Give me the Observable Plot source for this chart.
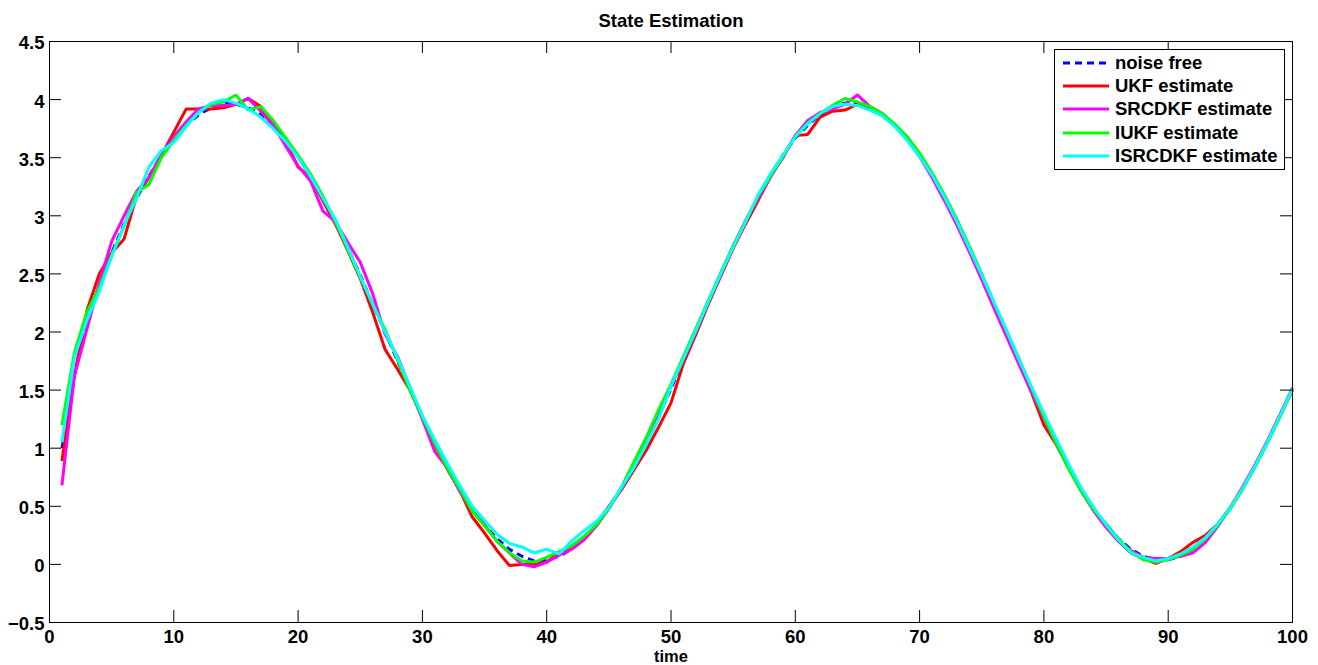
<!DOCTYPE html>
<html><head><meta charset="utf-8">
<script src="https://cdn.jsdelivr.net/npm/d3@7"></script>
<script src="https://cdn.jsdelivr.net/npm/@observablehq/plot@0.6"></script>
<style>
html,body{margin:0;padding:0;background:#fff;}
#wrap{position:relative;width:1318px;height:665px;font-family:"Liberation Sans",Arial,Helvetica,sans-serif;}
#legend{position:absolute;left:1054px;top:49px;width:229px;height:119px;border:1px solid #000;background:#fff;}
.row{position:absolute;left:0;height:23px;display:flex;align-items:center;font-weight:bold;font-size:18.5px;white-space:nowrap;color:#000;}
.row svg{margin-left:8px;margin-right:6px;display:block;}
</style></head><body><div id="wrap"></div>
<script>
const time = [1,2,3,4,5,6,7,8,9,10,11,12,13,14,15,16,17,18,19,20,21,22,23,24,25,26,27,28,29,30,31,32,33,34,35,36,37,38,39,40,41,42,43,44,45,46,47,48,49,50,51,52,53,54,55,56,57,58,59,60,61,62,63,64,65,66,67,68,69,70,71,72,73,74,75,76,77,78,79,80,81,82,83,84,85,86,87,88,89,90,91,92,93,94,95,96,97,98,99,100];

const noiseFree = [1.00,1.63,2.06,2.40,2.68,2.93,3.15,3.34,3.52,3.66, 3.78,3.87,3.93,3.97,3.96,3.93,3.87,3.78,3.66,3.51, 3.35,3.15,2.95,2.72,2.49,2.24,2.00,1.75,1.51,1.27, 1.05,0.84,0.65,0.48,0.34,0.22,0.13,0.07,0.03,0.04, 0.07,0.13,0.22,0.34,0.49,0.66,0.85,1.06,1.28,1.51, 1.76,2.00,2.25,2.49,2.73,2.95,3.16,3.35,3.52,3.67, 3.78,3.87,3.94,3.97,3.97,3.93,3.87,3.78,3.66,3.52, 3.35,3.15,2.95,2.72,2.49,2.24,2.00,1.75,1.51,1.27, 1.05,0.84,0.65,0.48,0.34,0.22,0.13,0.07,0.04,0.04, 0.07,0.13,0.22,0.34,0.49,0.66,0.85,1.06,1.28,1.51];

const ukf = [0.89,1.62,2.18,2.50,2.68,2.80,3.17,3.33,3.52,3.72, 3.92,3.92,3.92,3.93,3.96,4.01,3.94,3.78,3.64,3.42, 3.33,3.13,2.93,2.70,2.46,2.17,1.85,1.68,1.50,1.26, 1.03,0.82,0.64,0.41,0.27,0.12,-0.01,0.00,0.00,0.02, 0.10,0.14,0.22,0.34,0.50,0.64,0.81,0.98,1.18,1.39, 1.73,1.98,2.24,2.48,2.72,2.93,3.13,3.34,3.50,3.69, 3.70,3.85,3.90,3.91,3.96,3.94,3.88,3.78,3.68,3.53, 3.36,3.15,2.93,2.72,2.48,2.23,1.98,1.73,1.48,1.20, 1.03,0.83,0.64,0.47,0.33,0.20,0.10,0.05,0.01,0.05, 0.11,0.19,0.25,0.35,0.49,0.66,0.85,1.06,1.28,1.50];

const srcdkf = [0.68,1.62,2.02,2.42,2.78,3.00,3.21,3.33,3.52,3.68, 3.81,3.92,3.95,3.95,3.96,4.01,3.90,3.78,3.60,3.43, 3.30,3.04,2.95,2.77,2.60,2.33,1.98,1.79,1.52,1.25, 0.97,0.83,0.63,0.47,0.34,0.20,0.10,0.00,-0.02,0.02, 0.08,0.13,0.21,0.33,0.48,0.65,0.86,1.07,1.29,1.53, 1.77,2.01,2.26,2.50,2.74,2.96,3.15,3.33,3.51,3.69, 3.82,3.89,3.92,3.96,4.04,3.94,3.86,3.78,3.66,3.51, 3.33,3.13,2.92,2.69,2.45,2.20,1.96,1.72,1.49,1.26, 1.04,0.83,0.63,0.46,0.32,0.20,0.12,0.06,0.05,0.05, 0.07,0.10,0.19,0.33,0.49,0.67,0.86,1.07,1.29,1.52];

const iukf = [1.20,1.82,2.17,2.38,2.66,2.91,3.20,3.27,3.50,3.65, 3.78,3.89,3.96,3.98,4.04,3.91,3.94,3.82,3.67,3.52, 3.36,3.17,2.95,2.71,2.47,2.24,2.02,1.76,1.50,1.27, 1.04,0.83,0.65,0.46,0.33,0.20,0.10,0.03,0.02,0.06, 0.11,0.16,0.24,0.34,0.48,0.66,0.88,1.09,1.33,1.55, 1.79,2.03,2.27,2.51,2.74,2.95,3.17,3.34,3.51,3.68, 3.80,3.88,3.95,4.01,3.98,3.94,3.88,3.79,3.68,3.54, 3.37,3.18,2.97,2.74,2.50,2.25,2.01,1.77,1.52,1.27, 1.04,0.82,0.63,0.47,0.35,0.22,0.11,0.04,0.02,0.04, 0.08,0.13,0.22,0.34,0.48,0.65,0.84,1.05,1.27,1.51];

const isrcdkf = [1.05,1.78,2.10,2.35,2.65,2.92,3.15,3.42,3.56,3.63, 3.77,3.89,3.97,4.00,3.97,3.92,3.85,3.75,3.64,3.50, 3.34,3.15,2.97,2.73,2.48,2.24,2.00,1.78,1.53,1.28, 1.07,0.87,0.68,0.50,0.38,0.26,0.18,0.15,0.10,0.13, 0.09,0.20,0.29,0.37,0.49,0.66,0.83,1.03,1.25,1.53, 1.77,2.01,2.26,2.50,2.73,2.95,3.18,3.36,3.52,3.68, 3.79,3.88,3.94,3.96,3.95,3.91,3.86,3.77,3.65,3.51, 3.35,3.16,2.95,2.72,2.49,2.25,2.01,1.76,1.53,1.30, 1.08,0.86,0.66,0.49,0.34,0.21,0.10,0.06,0.03,0.05, 0.09,0.15,0.23,0.35,0.49,0.66,0.85,1.06,1.28,1.51];

const seriesNames = ["noise free","UKF estimate","SRCDKF estimate","IUKF estimate","ISRCDKF estimate"];
const seriesValues = [noiseFree, ukf, srcdkf, iukf, isrcdkf];
const seriesColors = ["#0000ff","#ff0000","#ff00ff","#00ff00","#00ffff"];
const seriesDash = ["7,5", null, null, null, null];

const xTicks = [0,10,20,30,40,50,60,70,80,90,100];
const xTickLabels = ["0","10","20","30","40","50","60","70","80","90","100"];
const yTicks = [-0.5,0,0.5,1,1.5,2,2.5,3,3.5,4,4.5];
const yTickLabels = ["\u22120.5","0","0.5","1","1.5","2","2.5","3","3.5","4","4.5"];

const titleText = "State Estimation";
const xLabel = "time";

const W = 1318, H = 665, mL = 49, mR = 26, mT = 41, mB = 43;
const plotW = W - mL - mR, plotH = H - mT - mB, tickLen = 12;
const fs = 18.5;

const rows = [];
seriesNames.forEach((name, i) => seriesValues[i].forEach((v, j) => rows.push({t: time[j], v, name})));

const lineMarks = seriesNames.map((name, i) => Plot.line(rows.filter(r => r.name === name), {
  x: "t", y: "v", stroke: seriesColors[i], strokeWidth: 3,
  strokeDasharray: seriesDash[i] || undefined,
  strokeLinejoin: "miter", strokeLinecap: "butt"
}));

const chart = Plot.plot({
  width: W, height: H,
  marginLeft: mL, marginRight: mR, marginTop: mT, marginBottom: mB,
  style: {fontFamily: '"Liberation Sans", Arial, Helvetica, sans-serif', background: "#fff", color: "#000"},
  x: {domain: [0, 100], label: null},
  y: {domain: [-0.5, 4.5], label: null},
  marks: [
    ...lineMarks,
    Plot.ruleX(xTicks, {x: d => d, insetTop: plotH - tickLen, stroke: "#000", strokeWidth: 1}),
    Plot.ruleX(xTicks, {x: d => d, insetBottom: plotH - tickLen, stroke: "#000", strokeWidth: 1}),
    Plot.ruleY(yTicks, {y: d => d, insetRight: plotW - tickLen, stroke: "#000", strokeWidth: 1}),
    Plot.ruleY(yTicks, {y: d => d, insetLeft: plotW - tickLen, stroke: "#000", strokeWidth: 1}),
    Plot.frame({stroke: "#000", strokeWidth: 1}),
    Plot.axisX(xTicks, {tickSize: 0, tickPadding: 7, tickFormat: d => xTickLabels[xTicks.indexOf(d)], fontSize: fs, fontWeight: "bold", label: null}),
    Plot.axisY(yTicks, {tickSize: 0, tickPadding: 5, dy: 2, tickFormat: d => yTickLabels[yTicks.indexOf(d)], fontSize: fs, fontWeight: "bold", label: null}),
    Plot.text([titleText], {text: d => d, frameAnchor: "top", lineAnchor: "middle", dy: -20.4, fontSize: fs, fontWeight: "bold"}),
    Plot.text([xLabel], {text: d => d, frameAnchor: "bottom", lineAnchor: "middle", dy: 34.2, fontSize: 16.5, fontWeight: "bold"})
  ]
});

const wrap = document.getElementById("wrap");
wrap.appendChild(chart);

const legend = document.createElement("div");
legend.id = "legend";
seriesNames.forEach((name, i) => {
  const row = document.createElement("div");
  row.className = "row";
  row.style.top = (1.67 + i * 23.33 - 0.5) + "px";
  const ns = "http://www.w3.org/2000/svg";
  const s = document.createElementNS(ns, "svg");
  s.setAttribute("width", 46); s.setAttribute("height", 6);
  const ln = document.createElementNS(ns, "line");
  ln.setAttribute("x1", 0); ln.setAttribute("x2", 46); ln.setAttribute("y1", 3); ln.setAttribute("y2", 3);
  ln.setAttribute("stroke", seriesColors[i]); ln.setAttribute("stroke-width", 3);
  if (seriesDash[i]) ln.setAttribute("stroke-dasharray", seriesDash[i]);
  s.appendChild(ln);
  row.appendChild(s);
  const tx = document.createElement("span");
  tx.textContent = name;
  row.appendChild(tx);
  legend.appendChild(row);
});
wrap.appendChild(legend);
</script>
</body></html>
